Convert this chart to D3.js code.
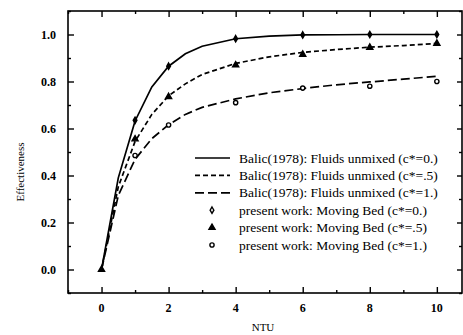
<!DOCTYPE html>
<html><head><meta charset="utf-8">
<script src="https://cdn.jsdelivr.net/npm/d3@7"></script>
<style>body{margin:0;background:#fff}svg{display:block}text{font-family:"Liberation Serif","Times New Roman",serif;fill:#000}</style>
</head><body><svg id="c" width="463" height="335"></svg>
<script>
// Balic (1978) curves: NTU vs effectiveness
const curveNTU = [0, 0.5, 1, 1.5, 2, 2.5, 3, 4, 5, 6, 7, 8, 9, 10];
const curveC0  = [0, 0.39, 0.632, 0.777, 0.865, 0.918, 0.95, 0.982, 0.993, 0.998, 0.999, 1.0, 1.0, 1.0];
const curveC05 = [0, 0.352, 0.545, 0.66, 0.739, 0.79, 0.83, 0.877, 0.905, 0.924, 0.936, 0.946, 0.953, 0.962];
const curveC1  = [0, 0.315, 0.469, 0.557, 0.616, 0.66, 0.69, 0.726, 0.752, 0.77, 0.786, 0.798, 0.81, 0.822];
// present work markers
const markNTU = [0, 1, 2, 4, 6, 8, 10];
const markC0  = [0, 0.635, 0.865, 0.982, 0.998, 1.0, 1.0];
const markC05 = [0, 0.555, 0.735, 0.87, 0.915, 0.945, 0.962];
const markC1  = [0, 0.485, 0.615, 0.71, 0.772, 0.78, 0.8];
const xTicks = [0, 2, 4, 6, 8, 10];
const yTicks = [0.0, 0.2, 0.4, 0.6, 0.8, 1.0];
const legendLabels = [
  "Balic(1978): Fluids unmixed (c*=0.)",
  "Balic(1978): Fluids unmixed (c*=.5)",
  "Balic(1978): Fluids unmixed (c*=1.)",
  "present work: Moving Bed (c*=0.)",
  "present work: Moving Bed (c*=.5)",
  "present work: Moving Bed (c*=1.)"
];

const svg = d3.select("#c");
const L = 68, R = 462, T = 11, B = 293;
const x = d3.scaleLinear().domain([-1, 10.75]).range([L, R]);
const y = d3.scaleLinear().domain([-0.1, 1.1]).range([B, T]);

// frame
svg.append("rect").attr("x", L).attr("y", T).attr("width", R - L).attr("height", B - T)
  .attr("fill", "none").attr("stroke", "#000").attr("stroke-width", 1.6);

const xMinor = d3.range(-1, 11, 1).filter(v => v % 2 !== 0);
const yMinor = d3.range(-1, 12, 1).map(v => v / 10).filter(v => Math.round(v * 10) % 2 !== 0);

// axes with inward ticks
const bottomAx = svg.append("g").attr("transform", `translate(0,${B})`)
  .call(d3.axisTop(x).tickValues(xTicks).tickSize(6).tickFormat(""));
const bottomMin = svg.append("g").attr("transform", `translate(0,${B})`)
  .call(d3.axisTop(x).tickValues(xMinor).tickSize(3).tickFormat(""));
const topAx = svg.append("g").attr("transform", `translate(0,${T})`)
  .call(d3.axisBottom(x).tickValues(xTicks).tickSize(6).tickFormat(""));
const topMin = svg.append("g").attr("transform", `translate(0,${T})`)
  .call(d3.axisBottom(x).tickValues(xMinor).tickSize(3).tickFormat(""));
const leftAx = svg.append("g").attr("transform", `translate(${L},0)`)
  .call(d3.axisRight(y).tickValues(yTicks).tickSize(6).tickFormat(""));
const leftMin = svg.append("g").attr("transform", `translate(${L},0)`)
  .call(d3.axisRight(y).tickValues(yMinor).tickSize(3).tickFormat(""));
const rightAx = svg.append("g").attr("transform", `translate(${R},0)`)
  .call(d3.axisLeft(y).tickValues(yTicks).tickSize(5).tickFormat(""));
const rightMin = svg.append("g").attr("transform", `translate(${R},0)`)
  .call(d3.axisLeft(y).tickValues(yMinor).tickSize(3).tickFormat(""));
[bottomAx, bottomMin, topAx, topMin, leftAx, leftMin, rightAx, rightMin].forEach(g => {
  g.select(".domain").remove();
  g.selectAll("line").attr("stroke", "#000").attr("stroke-width", 1.4);
});

// tick labels
svg.append("g").selectAll("text").data(xTicks).join("text")
  .attr("x", d => x(d)).attr("y", 312).attr("text-anchor", "middle")
  .attr("font-size", 12).attr("font-weight", "bold").text(d => d);
svg.append("g").selectAll("text").data(yTicks).join("text")
  .attr("x", 56).attr("y", d => y(d) + 4).attr("text-anchor", "end")
  .attr("font-size", 12).attr("font-weight", "bold").text(d => d.toFixed(1));

// axis titles
svg.append("text").attr("x", 263).attr("y", 331).attr("text-anchor", "middle")
  .attr("font-size", 11).text("NTU");
svg.append("text").attr("transform", "translate(24,172) rotate(-90)").attr("text-anchor", "middle")
  .attr("font-size", 11).text("Effectiveness");

// curves
const line = d3.line().x(d => x(d[0])).y(d => y(d[1]));
const curves = [
  { v: curveC0, dash: null },
  { v: curveC05, dash: "5,3" },
  { v: curveC1, dash: "9,4" }
];
curves.forEach(c => {
  svg.append("path").datum(curveNTU.map((n, i) => [n, c.v[i]]))
    .attr("d", line).attr("fill", "none").attr("stroke", "#000").attr("stroke-width", 1.7)
    .attr("stroke-dasharray", c.dash);
});

// markers
const sym = {
  diamond: d3.symbol().type(d3.symbolDiamond).size(12),
  triangle: d3.symbol().type(d3.symbolTriangle).size(16),
  circle: d3.symbol().type(d3.symbolCircle).size(14)
};
function drawMarker(g, type, cx, cy, fill) {
  g.append("path").attr("d", sym[type]()).attr("transform", `translate(${cx},${cy})`)
    .attr("stroke", "#000").attr("stroke-width", 1.4).attr("fill", fill);
}
const mg = svg.append("g");
markNTU.forEach((n, i) => { if (n > 0) drawMarker(mg, "circle", x(n), y(markC1[i]), "#fff"); });
markNTU.forEach((n, i) => { if (n > 0) drawMarker(mg, "diamond", x(n), y(markC0[i]), "#000"); });
markNTU.forEach((n, i) => drawMarker(mg, "triangle", x(n), y(markC05[i]), "#000"));

// legend
const lg = svg.append("g");
const ly0 = 158, ldy = 17.4;
legendLabels.forEach((t, i) => {
  const yy = ly0 + i * ldy;
  if (i < 3) {
    lg.append("line").attr("x1", 195).attr("x2", 230).attr("y1", yy).attr("y2", yy)
      .attr("stroke", "#000").attr("stroke-width", 1.7).attr("stroke-dasharray", curves[i].dash);
  } else {
    const type = ["diamond", "triangle", "circle"][i - 3];
    drawMarker(lg, type, 212, yy, type === "triangle" ? "#000" : "#fff");
  }
  lg.append("text").attr("x", 239).attr("y", yy + 4.5).attr("font-size", 13.5).text(t);
});
</script></body></html>
